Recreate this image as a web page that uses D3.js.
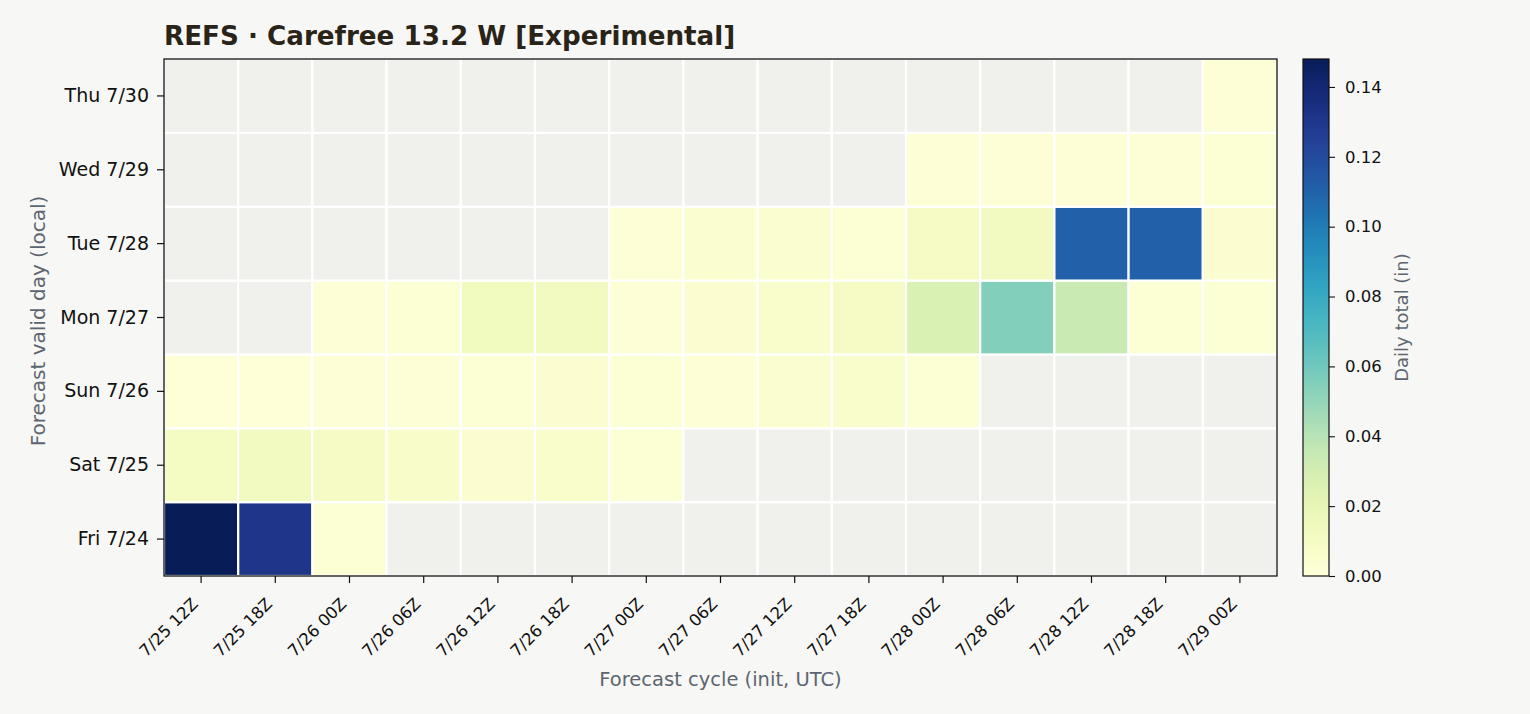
<!DOCTYPE html>
<html>
<head>
<meta charset="utf-8">
<script src="https://cdn.jsdelivr.net/npm/d3@7"></script>
<style>
  body { margin: 0; background: #f7f7f5; }
  svg { display: block; }
  svg text { font-family: "DejaVu Sans", sans-serif; }
</style>
</head>
<body>
<div id="chart"></div>
<script>
// forecast cycles (columns) and valid days (rows, bottom to top)
var cycles = ["7/25 12Z", "7/25 18Z", "7/26 00Z", "7/26 06Z", "7/26 12Z", "7/26 18Z",
  "7/27 00Z", "7/27 06Z", "7/27 12Z", "7/27 18Z", "7/28 00Z", "7/28 06Z",
  "7/28 12Z", "7/28 18Z", "7/29 00Z"];
var days = ["Fri 7/24", "Sat 7/25", "Sun 7/26", "Mon 7/27", "Tue 7/28", "Wed 7/29", "Thu 7/30"];

// daily totals (in), null = no data
var fri724 = [0.148, 0.131, 0.003, null, null, null, null, null, null, null, null, null, null, null, null];
var sat725 = [0.011, 0.012, 0.009, 0.008, 0.004, 0.006, 0.003, null, null, null, null, null, null, null, null];
var sun726 = [0.001, 0.001, 0.002, 0.002, 0.003, 0.004, 0.003, 0.002, 0.005, 0.006, 0.003, null, null, null, null];
var mon727 = [null, null, 0.002, 0.003, 0.013, 0.012, 0.002, 0.004, 0.006, 0.009, 0.027, 0.055, 0.034, 0.003, 0.003];
var tue728 = [null, null, null, null, null, null, 0.002, 0.005, 0.005, 0.003, 0.009, 0.012, 0.111, 0.111, 0.004];
var wed729 = [null, null, null, null, null, null, null, null, null, null, 0.002, 0.002, 0.002, 0.002, 0.003];
var thu730 = [null, null, null, null, null, null, null, null, null, null, null, null, null, null, 0.002];
var rows = [fri724, sat725, sun726, mon727, tue728, wed729, thu730];

var colorTicks = [0, 0.02, 0.04, 0.06, 0.08, 0.10, 0.12, 0.14];
var vmax = 0.148;

var W = 1530, H = 714;
var plot = { left: 164, top: 59, right: 1277, bottom: 576 };
var cbar = { left: 1303, right: 1329 };

var svg = d3.select("#chart").append("svg").attr("width", W).attr("height", H);
svg.append("rect").attr("width", W).attr("height", H).attr("fill", "#f7f7f5");

var x = d3.scaleBand().domain(cycles).range([plot.left, plot.right]);
var y = d3.scaleBand().domain(days).range([plot.bottom, plot.top]);
var color = d3.scaleSequential(d3.interpolateYlGnBu).domain([0, vmax]);

var cells = [];
rows.forEach(function(vals, r) {
  vals.forEach(function(v, c) {
    cells.push({ day: days[r], cycle: cycles[c], value: v });
  });
});

svg.append("g").selectAll("rect").data(cells).join("rect")
  .attr("x", function(d) { return x(d.cycle); })
  .attr("y", function(d) { return y(d.day); })
  .attr("width", x.bandwidth())
  .attr("height", y.bandwidth())
  .attr("fill", function(d) { return d.value === null ? "#f0f0ec" : color(d.value); })
  .attr("stroke", "#ffffff")
  .attr("stroke-width", 2.2);

// frame
svg.append("rect")
  .attr("x", plot.left).attr("y", plot.top)
  .attr("width", plot.right - plot.left).attr("height", plot.bottom - plot.top)
  .attr("fill", "none").attr("stroke", "#111").attr("stroke-width", 1.3);

// x axis
var xAxis = svg.append("g")
  .attr("transform", "translate(0," + plot.bottom + ")")
  .call(d3.axisBottom(x).tickSize(7).tickSizeOuter(0));
xAxis.select(".domain").remove();
xAxis.selectAll(".tick line").attr("stroke", "#111").attr("stroke-width", 1.2);
xAxis.selectAll(".tick text")
  .attr("font-family", "DejaVu Sans").attr("font-size", 16.5).attr("fill", "#111")
  .attr("text-anchor", "end")
  .attr("x", 0).attr("y", 0).attr("dy", 0)
  .attr("transform", "translate(-2,29) rotate(-45)");

// y axis
var yAxis = svg.append("g")
  .attr("transform", "translate(" + plot.left + ",0)")
  .call(d3.axisLeft(y).tickSize(7).tickSizeOuter(0).tickPadding(8));
yAxis.select(".domain").remove();
yAxis.selectAll(".tick line").attr("stroke", "#111").attr("stroke-width", 1.2);
yAxis.selectAll(".tick text").attr("font-family", "DejaVu Sans").attr("font-size", 19).attr("fill", "#111");

// labels
svg.append("text")
  .attr("x", plot.left).attr("y", 45)
  .attr("font-size", 26.2).attr("font-weight", "bold").attr("fill", "#2a2418")
  .text("REFS \u00b7 Carefree 13.2 W [Experimental]");

svg.append("text")
  .attr("x", (plot.left + plot.right) / 2).attr("y", 686)
  .attr("text-anchor", "middle").attr("font-size", 19.5).attr("fill", "#5d6670")
  .text("Forecast cycle (init, UTC)");

svg.append("text")
  .attr("transform", "translate(45,321) rotate(-90)")
  .attr("text-anchor", "middle").attr("font-size", 20).attr("fill", "#5d6670")
  .text("Forecast valid day (local)");

// colorbar
var defs = svg.append("defs");
var grad = defs.append("linearGradient").attr("id", "cbgrad")
  .attr("x1", 0).attr("y1", 1).attr("x2", 0).attr("y2", 0);
d3.range(0, 1.0001, 0.05).forEach(function(t) {
  grad.append("stop").attr("offset", t).attr("stop-color", d3.interpolateYlGnBu(t));
});

var cy = d3.scaleLinear().domain([0, vmax]).range([plot.bottom, plot.top]);
svg.append("rect")
  .attr("x", cbar.left).attr("y", plot.top)
  .attr("width", cbar.right - cbar.left).attr("height", plot.bottom - plot.top)
  .attr("fill", "url(#cbgrad)").attr("stroke", "#111").attr("stroke-width", 1.2);

var cAxis = svg.append("g")
  .attr("transform", "translate(" + cbar.right + ",0)")
  .call(d3.axisRight(cy).tickValues(colorTicks).tickFormat(d3.format(".2f")).tickSize(6).tickPadding(10));
cAxis.select(".domain").remove();
cAxis.selectAll(".tick line").attr("stroke", "#111").attr("stroke-width", 1.1);
cAxis.selectAll(".tick text").attr("font-family", "DejaVu Sans").attr("font-size", 16.5).attr("fill", "#111");

svg.append("text")
  .attr("transform", "translate(1408," + (plot.top + plot.bottom) / 2 + ") rotate(-90)")
  .attr("text-anchor", "middle").attr("font-size", 18).attr("fill", "#5d6670")
  .text("Daily total (in)");
</script>
</body>
</html>
